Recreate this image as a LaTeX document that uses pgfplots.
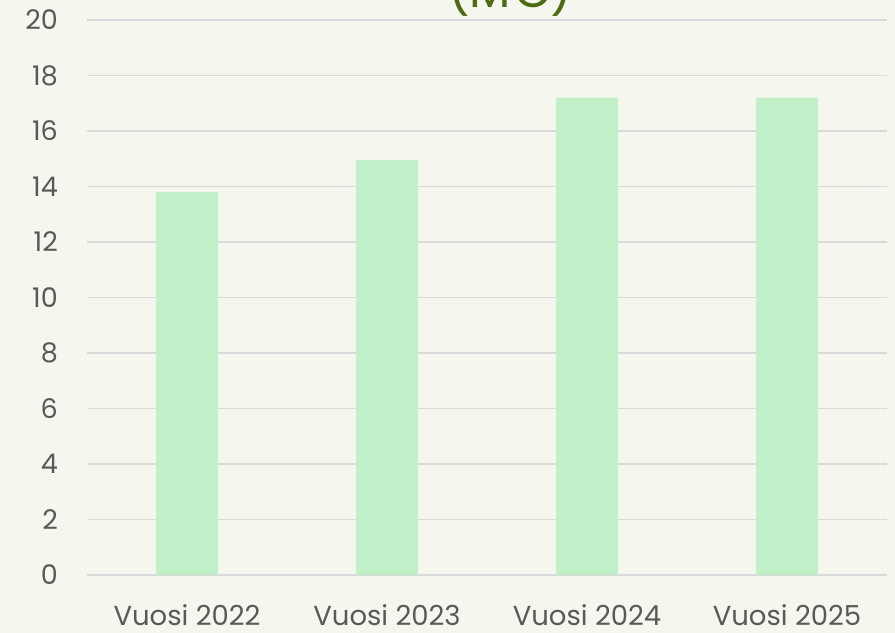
\documentclass[border=0pt]{standalone}
\usepackage{pgfplots}
\pgfplotsset{compat=1.18}
\usepackage{fontspec}
\setmainfont{Poppins}
\definecolor{bgc}{RGB}{245,247,238}
\definecolor{barc}{RGB}{193,240,200}
\definecolor{gridc}{RGB}{217,217,217}
\definecolor{txtc}{RGB}{89,89,89}
\definecolor{titlec}{RGB}{78,107,18}
\begin{document}
\begin{tikzpicture}[x=1bp,y=1bp]
\useasboundingbox (0,0) rectangle (895,633);
\fill[bgc] (0,0) rectangle (895,633);
\node[anchor=base, text=titlec, font=\fontsize{48bp}{56bp}\selectfont, inner sep=0pt] at (510,625) {(M€)};
\begin{axis}[
  at={(87bp,58bp)}, anchor=south west,
  scale only axis, width=800bp, height=555bp,
  xmin=-0.5, xmax=3.5, ymin=0, ymax=20,
  ytick={0,2,...,20},
  xtick={0,1,2,3},
  xticklabels={Vuosi 2022,Vuosi 2023,Vuosi 2024,Vuosi 2025},
  ymajorgrids, grid style={gridc, line width=1.3bp},
  axis line style={draw=none},
  major tick length=0pt,
  /pgf/number format/assume math mode=true,
  tick label style={text=txtc, font=\fontsize{27bp}{32bp}\selectfont, inner sep=0pt},
  yticklabel style={anchor=east, xshift=-29bp},
  xticklabel style={anchor=base, yshift=-51bp, font=\fontsize{27.5bp}{32bp}\selectfont},
  ybar, bar width=62bp,
]
\addplot[fill=barc, draw=none] coordinates {(0,13.8) (1,14.95) (2,17.2) (3,17.2)};
\end{axis}
\end{tikzpicture}
\end{document}
